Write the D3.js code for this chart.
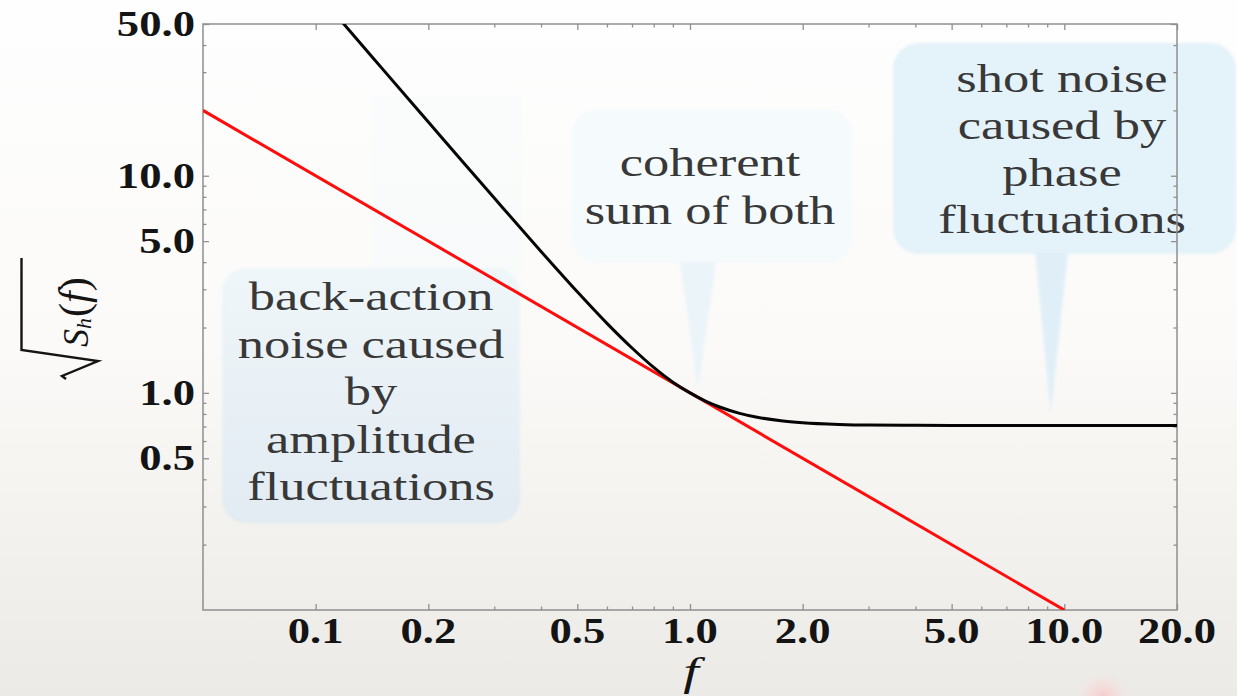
<!DOCTYPE html>
<html>
<head>
<meta charset="utf-8">
<script src="https://cdn.jsdelivr.net/npm/d3@7"></script>
<style>
  html, body { margin: 0; padding: 0; background: #ffffff; overflow: hidden; }
  svg { display: block; }
</style>
</head>
<body>
<svg id="chart" width="1237" height="696"></svg>
<script>
// ---- data -------------------------------------------------------------
// total strain noise (coherent sum of back-action and shot noise)
const fTotal = [0.115, 0.12, 0.15, 0.2, 0.25, 0.3, 0.4, 0.5, 0.6, 0.7, 0.8, 0.9,
                1.0, 1.1, 1.2, 1.35, 1.5, 1.75, 2, 2.5, 3, 4, 5, 7, 10, 15, 20];
const hTotal = [53.5, 49.1, 31.4, 17.68, 11.32, 7.89, 4.48, 2.92, 2.09, 1.61, 1.31, 1.12,
                1.0, 0.917, 0.861, 0.807, 0.774, 0.744, 0.729, 0.716, 0.711, 0.709, 0.708, 0.707, 0.707, 0.707, 0.707];
// straight reference line (red)
const fLimit = [0.05, 10];
const hLimit = [20, 0.1];

// axis ticks
const xMajorTicks  = [0.1, 0.2, 0.5, 1, 2, 5, 10, 20];
const xMajorLabels = ["0.1", "0.2", "0.5", "1.0", "2.0", "5.0", "10.0", "20.0"];
const xMinorTicks  = [0.3, 0.4, 0.6, 0.7, 0.8, 0.9, 3, 4, 6, 7, 8, 9];
const yMajorTicks  = [0.5, 1, 5, 10, 50];
const yMajorLabels = ["0.5", "1.0", "5.0", "10.0", "50.0"];
const yMinorTicks  = [0.2, 0.3, 0.4, 0.6, 0.7, 0.8, 0.9, 2, 3, 4, 6, 7, 8, 9, 20, 30, 40];

// callout texts
const noteBackAction = ["back-action", "noise caused", "by", "amplitude", "fluctuations"];
const noteCoherent   = ["coherent", "sum of both"];
const noteShot       = ["shot noise", "caused by", "phase", "fluctuations"];

// ---- layout -----------------------------------------------------------
const W = 1237, H = 696;
const plot = { left: 203, right: 1177, top: 24, bottom: 610 };

const x = d3.scaleLog().domain([0.05, 20]).range([plot.left, plot.right]);
const y = d3.scaleLog().domain([0.1, 50]).range([plot.bottom, plot.top]);

const svg = d3.select("#chart");
const defs = svg.append("defs");

// page background: white fading to a warm grey at the bottom
const bg = defs.append("linearGradient").attr("id", "bg")
  .attr("x1", 0).attr("y1", 0).attr("x2", 0).attr("y2", 1);
[[0, "#fefefe"], [0.5, "#fbfaf8"], [0.75, "#f3f2ee"], [1, "#ebeae6"]]
  .forEach(([o, c]) => bg.append("stop").attr("offset", o).attr("stop-color", c));

const bubbleGrad = defs.append("linearGradient").attr("id", "bubbleGrad")
  .attr("x1", 0).attr("y1", 0).attr("x2", 0).attr("y2", 1);
bubbleGrad.append("stop").attr("offset", 0).attr("stop-color", "#eff6f9");
bubbleGrad.append("stop").attr("offset", 1).attr("stop-color", "#e1ebf2");

const glow = defs.append("radialGradient").attr("id", "glow");
glow.append("stop").attr("offset", 0).attr("stop-color", "#f8c4c4").attr("stop-opacity", 0.85);
glow.append("stop").attr("offset", 0.6).attr("stop-color", "#f9d6d6").attr("stop-opacity", 0.45);
glow.append("stop").attr("offset", 1).attr("stop-color", "#fbe3e3").attr("stop-opacity", 0);

defs.append("filter").attr("id", "soft")
  .attr("x", "-5%").attr("y", "-5%").attr("width", "110%").attr("height", "110%")
  .append("feGaussianBlur").attr("stdDeviation", 1.6);

defs.append("clipPath").attr("id", "plotClip")
  .append("rect")
  .attr("x", plot.left).attr("y", plot.top)
  .attr("width", plot.right - plot.left).attr("height", plot.bottom - plot.top);

svg.append("rect").attr("width", W).attr("height", H).attr("fill", "url(#bg)");

// ---- callout bubbles -----------------------------------------------------
const bubbles = svg.append("g").attr("filter", "url(#soft)");

bubbles.append("rect")
  .attr("x", 372).attr("y", 95).attr("width", 150).attr("height", 180)
  .attr("fill", "#f3f8fb").attr("opacity", 0.3);

bubbles.append("rect")
  .attr("x", 222).attr("y", 268).attr("width", 298).attr("height", 255).attr("rx", 24)
  .attr("fill", "url(#bubbleGrad)");

bubbles.append("rect")
  .attr("x", 572).attr("y", 110).attr("width", 280).attr("height", 153).attr("rx", 24)
  .attr("fill", "#f5fafc");
bubbles.append("path")
  .attr("d", `M680,262 L716,262 L${x(1.05)},${y(1.03)} Z`)
  .attr("fill", "#ebf4f9");

bubbles.append("rect")
  .attr("x", 893).attr("y", 43).attr("width", 343).attr("height", 211).attr("rx", 26)
  .attr("fill", "#e4f2f9");
bubbles.append("path")
  .attr("d", `M1035,252 L1068,252 L${x(9.2)},${y(0.8)} Z`)
  .attr("fill", "#e0eff7");

// stretched serif text helper
function stretchedText(g, str, tx, ty, opts) {
  return g.append("text")
    .attr("transform", `translate(${tx},${ty}) scale(${opts.sx},1)`)
    .attr("text-anchor", opts.anchor || "middle")
    .attr("font-family", "'Liberation Serif', 'Times New Roman', serif")
    .attr("font-size", opts.size)
    .attr("font-weight", opts.weight || "normal")
    .attr("font-style", opts.style || "normal")
    .attr("fill", opts.fill)
    .text(str);
}

const notes = svg.append("g");
const noteStyle = { sx: 1.28, size: 41, fill: "#383838" };
noteBackAction.forEach((s, i) => stretchedText(notes, s, 371, 310 + i * 47.5, noteStyle));
noteCoherent.forEach((s, i) => stretchedText(notes, s, 710, 176 + i * 47.5, noteStyle));
noteShot.forEach((s, i) => stretchedText(notes, s, 1062, 92 + i * 47, noteStyle));

// ---- frame and ticks -----------------------------------------------------
const frameColor = "#8f8f8f";
const axes = svg.append("g");

function tickAxis(axisFn, scale, values, len, transform) {
  const g = axes.append("g").attr("transform", transform)
    .call(axisFn(scale).tickValues(values).tickSizeInner(-len).tickSizeOuter(0).tickFormat(""));
  g.select(".domain").remove();
  g.selectAll(".tick line").attr("stroke", frameColor).attr("stroke-width", 1.3);
  g.selectAll(".tick text").remove();
}
tickAxis(d3.axisBottom, x, xMajorTicks, 6, `translate(0,${plot.bottom})`);
tickAxis(d3.axisBottom, x, xMinorTicks, 3.5, `translate(0,${plot.bottom})`);
tickAxis(d3.axisTop, x, xMajorTicks, 6, `translate(0,${plot.top})`);
tickAxis(d3.axisTop, x, xMinorTicks, 3.5, `translate(0,${plot.top})`);
tickAxis(d3.axisLeft, y, yMajorTicks, 6, `translate(${plot.left},0)`);
tickAxis(d3.axisLeft, y, yMinorTicks, 3.5, `translate(${plot.left},0)`);
tickAxis(d3.axisRight, y, yMajorTicks, 6, `translate(${plot.right},0)`);
tickAxis(d3.axisRight, y, yMinorTicks, 3.5, `translate(${plot.right},0)`);

axes.append("rect")
  .attr("x", plot.left).attr("y", plot.top)
  .attr("width", plot.right - plot.left).attr("height", plot.bottom - plot.top)
  .attr("fill", "none").attr("stroke", frameColor).attr("stroke-width", 1.5);

// ---- curves -------------------------------------------------------------
const curves = svg.append("g").attr("clip-path", "url(#plotClip)");

const limitLine = d3.line().x(d => x(d[0])).y(d => y(d[1]));
curves.append("path")
  .attr("d", limitLine(d3.zip(fLimit, hLimit)))
  .attr("fill", "none").attr("stroke", "#ff0d0d").attr("stroke-width", 3);

const totalLine = d3.line().x(d => x(d[0])).y(d => y(d[1])).curve(d3.curveMonotoneX);
curves.append("path")
  .attr("d", totalLine(d3.zip(fTotal, hTotal)))
  .attr("fill", "none").attr("stroke", "#050505").attr("stroke-width", 3)
  .attr("stroke-linejoin", "round");

// ---- tick labels ----------------------------------------------------------
const labels = svg.append("g");
const tickStyle = { sx: 1.24, size: 36, weight: "bold", fill: "#141414" };
xMajorTicks.forEach((v, i) => stretchedText(labels, xMajorLabels[i], x(v), 643, tickStyle));
yMajorTicks.forEach((v, i) =>
  stretchedText(labels, yMajorLabels[i], 195, y(v) + 12, Object.assign({ anchor: "end" }, tickStyle)));

// x-axis title
stretchedText(labels, "f", 691, 685, { sx: 1.4, size: 40, style: "italic", fill: "#141414" });

// y-axis title: sqrt(S_h(f)), read bottom to top
const yTitle = svg.append("g").attr("transform", "translate(90,380) rotate(-90)");
yTitle.append("path")
  .attr("d", "M1,-24 L4,-28 L19,8 L30,-68.5 L122,-68.5")
  .attr("fill", "none").attr("stroke", "#141414").attr("stroke-width", 2.4)
  .attr("stroke-linejoin", "miter");
const yt = yTitle.append("text")
  .attr("font-family", "'Liberation Serif', 'Times New Roman', serif")
  .attr("fill", "#141414");
yt.append("tspan").attr("x", 33).attr("y", -2).attr("font-size", 36).attr("font-style", "italic").text("S");
yt.append("tspan").attr("dy", 3).attr("font-size", 22).attr("font-style", "italic").text("h");
yt.append("tspan").attr("dy", -3).attr("dx", 1).attr("font-size", 42).text("(");
yt.append("tspan").attr("font-size", 42).attr("font-style", "italic").text("f");
yt.append("tspan").attr("font-size", 42).text(")");

// faint red glow at the lower edge
svg.append("ellipse")
  .attr("cx", 1103).attr("cy", 698).attr("rx", 26).attr("ry", 26)
  .attr("fill", "url(#glow)");
</script>
</body>
</html>
